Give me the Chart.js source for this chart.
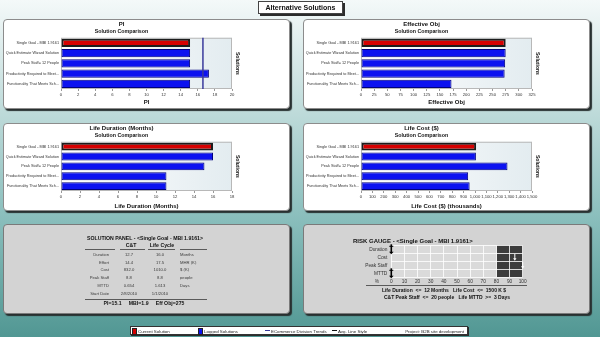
<!DOCTYPE html>
<html>
<head>
<meta charset="utf-8">
<script src="https://cdn.jsdelivr.net/npm/chart.js@4.4.1/dist/chart.umd.min.js"></script>
<style>
  body {
    margin: 0; width: 600px; height: 337px; overflow: hidden; position: relative;
    font-family: "Liberation Sans", Arial, sans-serif;
    background: linear-gradient(#f4f9f9 0%, #bddad9 34%, #8bbfbd 64%, #519793 100%);
  }
  .panel {
    position: absolute; box-sizing: border-box; background: #fff;
    border: 1px solid #8c8c8c; border-radius: 4px; box-shadow: 2px 2px 1px #283030;
  }
  .panel.grey { background: #d3d3d3; border-color: #7a7a7a; }
  .panel canvas { position: absolute; left: -1px; top: -1px; }
  .txt { position: absolute; white-space: pre; color: #3a3a3a; line-height: 1; will-change: transform; }
  .rule { position: absolute; height: 0; border-top: 1px solid #5a5a5a; }
  #title {
    position: absolute; left: 258px; top: 1px; width: 85px; height: 13px; box-sizing: border-box;
    background: #fff; border: 1px solid #444; box-shadow: 2px 2px 0 #2c2c2c;
  }
  #title span {
    position: absolute; left: 0; right: 0; top: 2px; text-align: center; will-change: transform;
    font: bold 7px "Liberation Sans", Arial, sans-serif; color: #111; line-height: 7px;
  }
  #legend {
    position: absolute; left: 130px; top: 326px; width: 338px; height: 9px; box-sizing: border-box;
    background: #fff; border: 1px solid #333; box-shadow: 1px 1px 0 #2c2c2c;
  }
  .sw { position: absolute; top: 1px; width: 3px; height: 5px; border: 0.5px solid #222; }
  .ln { position: absolute; top: 3px; width: 5px; height: 1px; }
</style>
</head>
<body>
<div id="title"><span>Alternative Solutions</span></div>

<div class="panel" style="left:3px;top:19px;width:287px;height:90px"><canvas id="pi" width="287" height="90"></canvas></div>
<div class="panel" style="left:303px;top:19px;width:287px;height:90px"><canvas id="effObj" width="287" height="90"></canvas></div>
<div class="panel" style="left:3px;top:123px;width:287px;height:88px"><canvas id="duration" width="287" height="88"></canvas></div>
<div class="panel" style="left:303px;top:123px;width:287px;height:88px"><canvas id="cost" width="287" height="88"></canvas></div>
<div class="panel grey" style="left:3px;top:224px;width:287px;height:90px"></div>
<div class="panel grey" style="left:303px;top:224px;width:287px;height:90px"><canvas id="gauge" width="287" height="90"></canvas></div>

<div id="legend"></div>

<script>
// solutions compared in every chart, current one first
const solutions = ['Single Goal - MBI 1.9161', 'Quick Estimate Wizard Solution', 'Peak Staff= 12 People',
  'Productivity Required to Meet...', 'Functionality That Meets Sch...'];

const piValues = [15.1, 15.1, 15.1, 17.3, 15.1];
const piTrend = 16.6;
const effObjValues = [275, 275, 274, 273, 172];
const durationValues = [16.0, 16.0, 15.1, 11.1, 11.1];
const costValues = [1010, 1008, 1285, 940, 953];

// solution panel table
const panelRows = ['Duration', 'Effort', 'Cost', 'Peak Staff', 'MTTD', 'Start Date'];
const ctValues = ['12.7', '14.4', '832.0', '8.8', '0.654', '2/8/2010'];
const lifeValues = [durationValues[0].toFixed(1), '17.5', costValues[0].toFixed(1), '8.8', '1.613', '1/1/2010'];
const panelUnits = ['Months', 'MHR (K)', '$ (K)', 'people', 'Days', ''];
const mbi = 1.9;

// risk gauge
const gaugeRows = ['Duration', 'Cost', 'Peak Staff', 'MTTD'];
const gaugeValues = [0, 94, 100, 0];
const gaugeWarn = 80;
const gaugeLimits = ['Life Duration  <=  12 Months   Life Cost  <=  1500 K $',
  'C&T Peak Staff  <=  20 people   Life MTTD  >=  3 Days'];

const FONT = "'Liberation Sans', Arial, sans-serif";
const RED = '#d60000';
const BLUE = '#0c12f0';

// light gradient behind the bars plus a thin frame
const plotBg = {
  id: 'plotBg',
  beforeDatasetsDraw(chart) {
    const { ctx, chartArea: a } = chart;
    const g = ctx.createLinearGradient(a.left, 0, a.right, 0);
    g.addColorStop(0, '#ffffff');
    g.addColorStop(1, '#e3ecf0');
    ctx.save();
    ctx.fillStyle = g;
    ctx.fillRect(a.left, a.top, a.width, a.height);
    ctx.strokeStyle = '#b8b8b8';
    ctx.lineWidth = 1;
    ctx.strokeRect(a.left + 0.5, a.top + 0.5, a.width - 1, a.height - 1);
    ctx.restore();
  }
};

// vertical division trend line
const trendLine = {
  id: 'trendLine',
  afterDatasetsDraw(chart, args, opts) {
    if (opts.value == null) return;
    const { ctx, chartArea: a, scales: { x } } = chart;
    const px = x.getPixelForValue(opts.value);
    ctx.save();
    ctx.strokeStyle = '#3a3a9c';
    ctx.lineWidth = 1.5;
    ctx.beginPath();
    ctx.moveTo(px, a.top);
    ctx.lineTo(px, a.bottom);
    ctx.stroke();
    ctx.restore();
  }
};

function comparisonChart(id, title, axisTitle, values, max, step, padBottom, xHeight, trend) {
  return new Chart(document.getElementById(id), {
    type: 'bar',
    data: {
      labels: solutions,
      datasets: [{
        data: values,
        backgroundColor: values.map((v, i) => i === 0 ? RED : BLUE),
        borderColor: values.map((v, i) => i === 0 ? '#1c1c1c' : '#00007e'),
        borderWidth: values.map((v, i) => i === 0 ? 2 : 1),
        borderSkipped: false,
        barPercentage: 0.8,
        categoryPercentage: 1
      }]
    },
    plugins: [plotBg, trendLine],
    options: {
      indexAxis: 'y',
      responsive: false,
      animation: false,
      events: [],
      layout: { padding: { left: 0, top: 0, right: 50, bottom: padBottom } },
      plugins: {
        legend: { display: false },
        tooltip: { enabled: false },
        title: {
          display: true, text: title, color: '#111',
          font: { family: FONT, size: 6, weight: 'bold' }, padding: { top: 2, bottom: 0 }
        },
        subtitle: {
          display: true, text: 'Solution Comparison', color: '#111',
          font: { family: FONT, size: 5.3, weight: 'bold' }, padding: { top: 0, bottom: 3.2 }
        },
        trendLine: { value: trend }
      },
      scales: {
        x: {
          min: 0, max: max,
          ticks: { stepSize: step, color: '#333', font: { family: FONT, size: 4.2 }, padding: 1.5, maxRotation: 0, autoSkip: false },
          grid: { drawOnChartArea: false, tickLength: 2, color: '#999' },
          border: { display: false },
          title: { display: true, text: axisTitle, color: '#111', font: { family: FONT, size: 6, weight: 'bold' }, padding: 0 },
          afterFit: s => { s.height = xHeight; }
        },
        y: {
          ticks: { color: '#333', font: { family: FONT, size: 3.8 }, padding: 2, autoSkip: false },
          grid: { display: false, drawTicks: false },
          border: { display: false },
          afterFit: s => { s.width = 58; }
        },
        y2: {
          type: 'category', position: 'right',
          ticks: { display: false }, grid: { display: false, drawTicks: false }, border: { display: false },
          title: { display: true, text: 'Solutions', color: '#111', font: { family: FONT, size: 5, weight: 'bold' }, padding: 0 },
          afterFit: s => { s.width = 8; }
        }
      }
    }
  });
}

comparisonChart('pi', 'PI', 'PI', piValues, 20, 2, 3.4, 16.6, piTrend);
comparisonChart('effObj', 'Effective Obj', 'Effective Obj', effObjValues, 325, 25, 3.4, 16.6);
comparisonChart('duration', 'Life Duration (Months)', 'Life Duration (Months)', durationValues, 18, 2, 1.4, 18.6);
comparisonChart('cost', 'Life Cost ($)', 'Life Cost ($) (thousands)', costValues, 1500, 100, 1.4, 18.6);

// arrow markers on the risk gauge
const gaugeArrows = {
  id: 'gaugeArrows',
  afterDraw(chart) {
    const { ctx, scales: { x, y } } = chart;
    gaugeValues.forEach((v, i) => {
      const px = x.getPixelForValue(v);
      const py = y.getPixelForValue(i);
      const dark = v < gaugeWarn;
      const half = dark ? 5 : 3.5;
      const head = dark ? 2.3 : 1.7;
      ctx.save();
      ctx.strokeStyle = ctx.fillStyle = dark ? '#000' : '#fff';
      ctx.lineWidth = dark ? 1.6 : 1;
      ctx.beginPath();
      ctx.moveTo(px, py - half);
      ctx.lineTo(px, py + half - 2);
      ctx.stroke();
      ctx.beginPath();
      ctx.moveTo(px - head, py + half - 2.6);
      ctx.lineTo(px + head, py + half - 2.6);
      ctx.lineTo(px, py + half);
      ctx.closePath();
      ctx.fill();
      if (dark) {
        ctx.lineWidth = 1;
        ctx.beginPath();
        ctx.moveTo(px - 2, py - half + 2);
        ctx.lineTo(px + 2, py - half + 2);
        ctx.stroke();
      }
      ctx.restore();
    });
  }
};

const gridWhite = 'rgba(255,255,255,0.8)';
new Chart(document.getElementById('gauge'), {
  type: 'bar',
  data: {
    labels: gaugeRows,
    datasets: [
      { data: gaugeRows.map(() => [0, gaugeWarn]), backgroundColor: '#dadada', grouped: false, barPercentage: 1, categoryPercentage: 1 },
      { data: gaugeRows.map(() => [gaugeWarn, 100]), backgroundColor: '#3c3c3c', grouped: false, barPercentage: 1, categoryPercentage: 1 }
    ]
  },
  plugins: [gaugeArrows],
  options: {
    indexAxis: 'y',
    responsive: false,
    animation: false,
    events: [],
    layout: { padding: { left: 0, top: 0, right: 67.3, bottom: 28.7 } },
    plugins: {
      legend: { display: false },
      tooltip: { enabled: false },
      title: {
        display: true, text: 'RISK GAUGE - <' + solutions[0] + '>', color: '#111',
        font: { family: FONT, size: 6, weight: 'bold' }, padding: { top: 13.7, bottom: 0.4 }
      }
    },
    scales: {
      x: {
        min: 0, max: 100,
        ticks: { stepSize: 10, color: '#333', font: { family: FONT, size: 4.8 }, padding: 1, maxRotation: 0, autoSkip: false },
        grid: { color: gridWhite, drawTicks: false, z: 1 },
        border: { display: false },
        afterFit: s => { s.height = 8; }
      },
      y: {
        ticks: { color: '#333', font: { family: FONT, size: 4.8 }, padding: 4, autoSkip: false },
        grid: { color: gridWhite, drawTicks: false, z: 1 },
        border: { display: false },
        afterFit: s => { s.width = 88.3; }
      }
    }
  }
});

// positioned text helpers
function put(text, x, y, align, style, parent) {
  const d = document.createElement('div');
  d.className = 'txt';
  d.textContent = text;
  const shift = align === 'center' ? '-50%' : align === 'right' ? '-100%' : '0';
  Object.assign(d.style, { left: x + 'px', top: y + 'px', transform: 'translate(' + shift + ',-50%)' }, style);
  (parent || document.body).appendChild(d);
  return d;
}
function rule(x1, x2, y) {
  const d = document.createElement('div');
  d.className = 'rule';
  Object.assign(d.style, { left: x1 + 'px', top: y + 'px', width: (x2 - x1) + 'px' });
  document.body.appendChild(d);
}
const bold = size => ({ font: 'bold ' + size + 'px ' + FONT, color: '#111' });
const plain = size => ({ font: size + 'px ' + FONT });

// solution panel
put('SOLUTION PANEL - <' + solutions[0] + '>', 145.3, 238.3, 'center', bold(5.2));
put('C&T', 131, 244.7, 'center', bold(5.2));
put('Life Cycle', 161.5, 244.7, 'center', bold(5.2));
rule(85, 115, 248.6);
rule(120, 145, 248.6);
rule(148, 175, 248.6);
rule(180, 206.7, 248.6);
panelRows.forEach((name, i) => {
  const y = 253.8 + i * 7.8;
  put(name, 109, y, 'right', plain(4.2));
  put(ctValues[i], 128.5, y, 'center', plain(4.2));
  put(lifeValues[i], 160, y, 'center', plain(4.2));
  put(panelUnits[i], 180, y, 'left', plain(4.2));
});
rule(85, 206.7, 298.8);
put('PI=' + piValues[0] + '     MBI=' + mbi + '     Eff Obj=' + effObjValues[0], 144, 303, 'center', bold(5.2));

// risk gauge notes
put('%', 376.7, 281, 'center', plain(4.8));
rule(366, 526.7, 285.4);
put(gaugeLimits[0], 444, 289.5, 'center', bold(5));
put(gaugeLimits[1], 446.8, 297.3, 'center', bold(5));

// legend strip
const legend = document.getElementById('legend');
function swatch(cls, left, color) {
  const d = document.createElement('div');
  d.className = cls;
  d.style.left = left + 'px';
  d.style.background = color;
  legend.appendChild(d);
}
const legendText = { font: '4.4px ' + FONT, color: '#222' };
swatch('sw', 1, RED);
put('Current Solution', 7, 3.5, 'left', legendText, legend);
swatch('sw', 67, BLUE);
put('Logged Solutions', 73, 3.5, 'left', legendText, legend);
swatch('ln', 134, '#3a3a9c');
put('ECommerce Division Trends', 140, 3.5, 'left', legendText, legend);
swatch('ln', 201, '#111');
put('Avg. Line Style', 207, 3.5, 'left', legendText, legend);
put('Project: B2B site development', 333, 3.5, 'right', legendText, legend);
</script>
</body>
</html>
